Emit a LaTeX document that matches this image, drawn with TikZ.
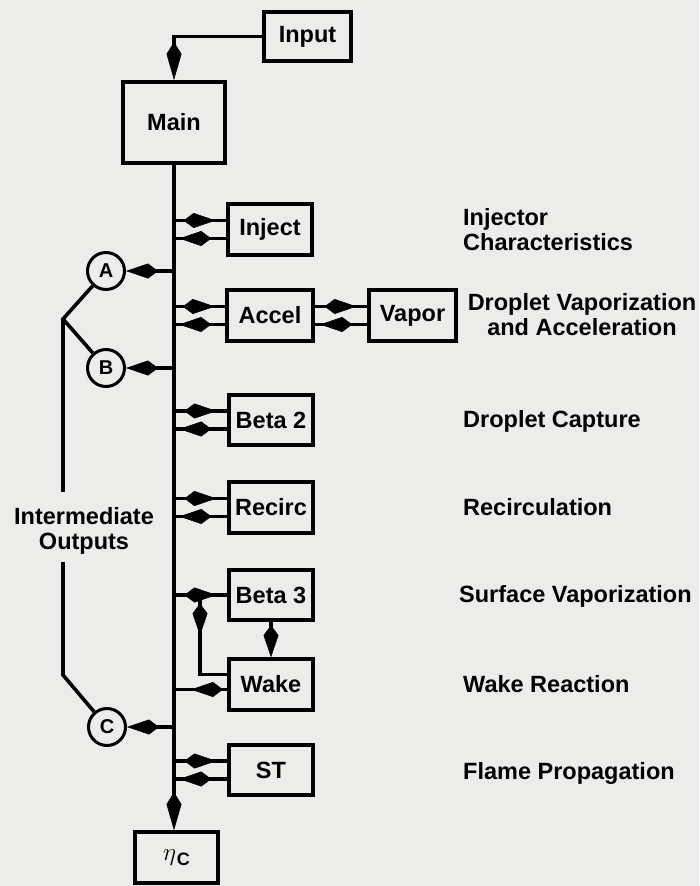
\documentclass[tikz,border=0pt]{standalone}
\usepackage{fontspec}
\setmainfont{Liberation Sans}
\usetikzlibrary{arrows.meta, positioning, calc, decorations.markings}
\definecolor{paper}{RGB}{236,236,234}

\begin{document}
\begin{tikzpicture}[
  x=1pt, y=1pt,
  font=\fontsize{23.5}{25}\selectfont\bfseries,
  head/.tip={Kite[length=32pt, width=15pt, inset=10pt, line width=0.5pt]},
  bighead/.tip={Kite[length=38pt, width=15pt, inset=12pt, line width=0.5pt]},
  wire/.style={line width=3.6pt},
  mid/.style={wire, postaction={decorate}, decoration={markings, mark=at position #1 with {\arrow{head}}}},
  box/.style={draw, line width=4pt, minimum width=#1, minimum height=50.5pt, inner sep=0pt},
  outcircle/.style={circle, draw, line width=3pt, minimum size=37pt, inner sep=0pt, font=\fontsize{20}{20}\selectfont\bfseries},
  lbl/.style={anchor=west, inner sep=0pt, align=left}
]
\fill[paper] (0,0) rectangle (699,-886);
\useasboundingbox (0,0) rectangle (699,-886);

% boxes
\node[box=87pt, minimum height=49pt] (input) at (307.5,-36.5) {Input};
\node[box=102pt, minimum height=81pt] (main) at (174,-122.5) {Main};
\node[box=84pt] (inj) at (270,-229.5) {Inject};
\node[box=86pt] (accel) at (270,-315.5) {Accel};
\node[box=87pt, right=52pt of accel] (vapor) {Vapor};
\node[box=84pt] (betatwo) at (271,-420) {Beta 2};
\node[box=84pt] (recirc) at (271,-507.5) {Recirc};
\node[box=84pt] (betathree) at (271,-595) {Beta 3};
\node[box=84pt, below=35pt of betathree] (wake) {Wake};
\node[box=84pt] (st) at (271,-770) {ST};
\node[box=83pt] (eta) at (176.5,-857.5) {$\eta$\kern1pt\raisebox{-5pt}{\fontsize{18}{18}\selectfont C}};

% intermediate outputs
\node[outcircle] (a) at (106,-271) {A};
\node[outcircle] (b) at (106,-368) {B};
\node[outcircle] (c) at (107,-727) {C};
\coordinate (j) at (63,-319);
\coordinate (gapt) at (63,-492);
\coordinate (gapb) at (63,-562);
\coordinate (k) at (63,-675);
\node[align=center, inner sep=0pt] (io) at (84,-531) {Intermediate\\Outputs};

% process labels
\node[lbl] (injl) at (463,-230) {Injector\\Characteristics};
\node[align=center, inner sep=0pt] (vapl) at (582,-315) {Droplet Vaporization\\and Acceleration};
\node[lbl] (capl) at (463,-421) {Droplet Capture};
\node[lbl] (recl) at (463,-507) {Recirculation};
\node[lbl] (surl) at (459,-596) {Surface Vaporization};
\node[lbl] (wakl) at (463,-684) {Wake Reaction};
\node[lbl] (flal) at (463,-773) {Flame Propagation};

% connectors
\draw[wire, -{bighead}] (input.west) -| (main.north);
\draw[wire, -{bighead}] (main.south) -- (main.south |- eta.north);
\foreach \m in {inj, accel, betatwo, recirc, st}{
  \draw[mid=0.8] ($(main.south |- \m.west)+(0,9)$) -- ($(\m.west)+(0,9)$);
  \draw[mid=0.9] ($(\m.west)+(0,-9)$) -- ($(main.south |- \m.west)+(0,-9)$);
}
\draw[mid=0.8] ($(accel.east)+(0,9)$) -- ($(vapor.west)+(0,9)$);
\draw[mid=0.9] ($(vapor.west)+(0,-9)$) -- ($(accel.east)+(0,-9)$);
\foreach \o in {a, b, c}{\draw[wire, -{head}] (main.south |- \o) -- (\o);}
\coordinate (jb) at ($(betathree.west)+(-27,0)$);
\draw[mid=0.8] (main.south |- betathree.west) -- (betathree.west);
\draw[mid=0.38] (jb) |- ($(wake.west)+(0,10)$);
\draw[wire, -{head}] (betathree) -- (wake);
\draw[mid=0.68] ($(wake.west)+(0,-5)$) -- ($(main.south |- wake.west)+(0,-5)$);
\draw[wire] (a) -- (j) -- (b);
\draw[wire] (j) -- (gapt);
\draw[wire] (gapb) -- (k) -- (c);
\end{tikzpicture}
\end{document}
